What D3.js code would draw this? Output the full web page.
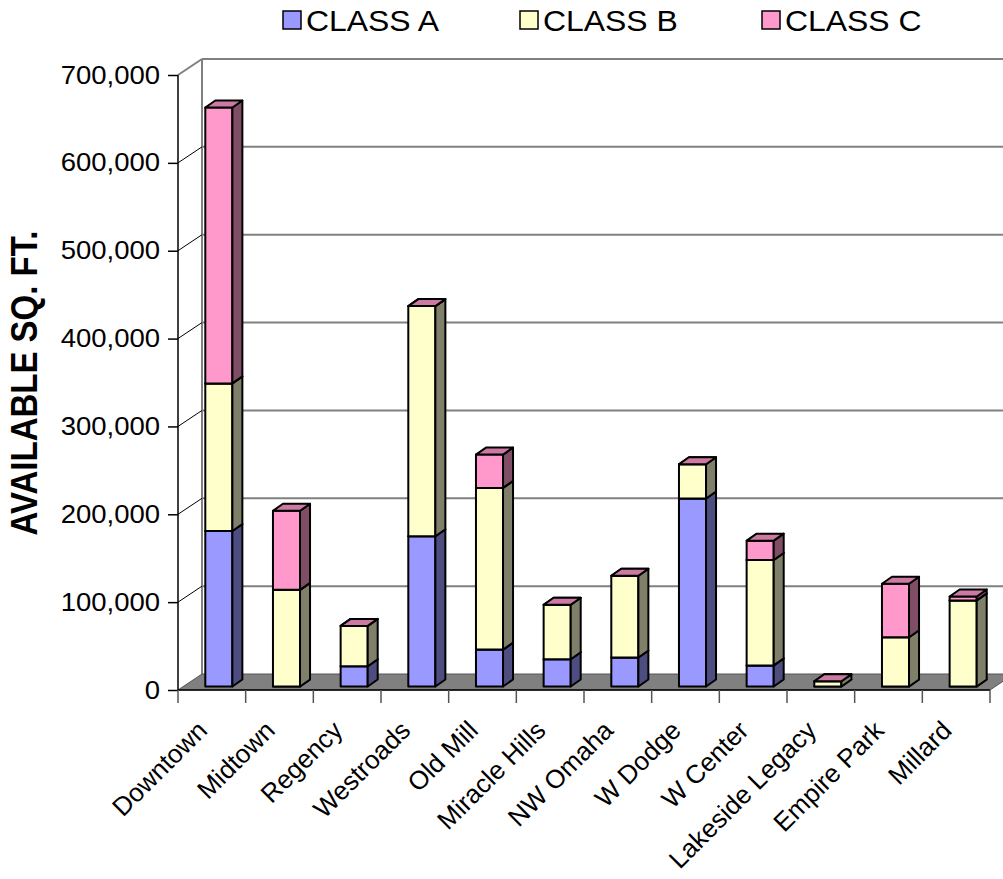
<!DOCTYPE html>
<html>
<head>
<meta charset="utf-8">
<script src="https://cdn.jsdelivr.net/npm/d3@7"></script>
<style>
  body { margin: 0; background: #fff; }
  svg { display: block; font-family: "Liberation Sans", Arial, sans-serif; }
</style>
</head>
<body>
<svg id="chart" width="1003" height="879"></svg>
<script>
const categories = ['Downtown', 'Midtown', 'Regency', 'Westroads', 'Old Mill', 'Miracle Hills',
  'NW Omaha', 'W Dodge', 'W Center', 'Lakeside Legacy', 'Empire Park', 'Millard'];
const classA = [177000, 0, 23000, 171000, 42000, 31000, 33000, 214000, 24000, 0, 0, 0];
const classB = [168000, 110000, 46000, 262000, 184000, 62000, 93000, 39000, 120000, 6000, 56000, 98000];
const classC = [314000, 90000, 0, 0, 38000, 0, 0, 0, 22000, 0, 61000, 4500];
const seriesNames = ['CLASS A', 'CLASS B', 'CLASS C'];
const yTicks = [0, 100000, 200000, 300000, 400000, 500000, 600000, 700000];

const colors = [
  { front: '#9999FF', side: '#4D4D80', top: '#7A7ACC' },
  { front: '#FFFFCC', side: '#80806A', top: '#CCCCA3' },
  { front: '#FF99CC', side: '#804D66', top: '#CC7AA3' }
];

const svg = d3.select('#chart');
const plotLeft = 178, plotRight = 990, plotBottom = 690, plotTop = 75;
const wall = { dx: 24, dy: -16 };      // depth of the chart box
const barOff = { dx: 7, dy: -3.5 };    // bar front inset
const barDepth = { dx: 10, dy: -7 };
const stretch = 1.1;                   // text is a bit wide in the original

const x = d3.scaleBand().domain(categories).range([plotLeft, plotRight]).paddingInner(0).paddingOuter(0);
const y = d3.scaleLinear().domain([0, 700000]).range([plotBottom, plotTop]);
const gray = '#808080';

// back wall grid
const back = svg.append('g');
back.append('line')
  .attr('x1', plotLeft + wall.dx).attr('x2', plotLeft + wall.dx)
  .attr('y1', y(700000) + wall.dy).attr('y2', y(0) + wall.dy)
  .attr('stroke', gray).attr('stroke-width', 2);
back.selectAll('line.grid').data(yTicks.slice(1)).enter().append('line')
  .attr('class', 'grid')
  .attr('x1', plotLeft + wall.dx).attr('x2', 1010)
  .attr('y1', d => y(d) + wall.dy).attr('y2', d => y(d) + wall.dy)
  .attr('stroke', gray).attr('stroke-width', 2);
// side wall lines
back.selectAll('line.side').data(yTicks.slice(1)).enter().append('line')
  .attr('class', 'side')
  .attr('x1', plotLeft).attr('x2', plotLeft + wall.dx)
  .attr('y1', d => y(d)).attr('y2', d => y(d) + wall.dy)
  .attr('stroke', d => d === 700000 ? gray : '#000')
  .attr('stroke-width', d => d === 700000 ? 2 : 1);

// floor
svg.append('polygon')
  .attr('points', [[plotLeft, y(0)], [plotRight, y(0)], [plotRight + wall.dx, y(0) + wall.dy], [plotLeft + wall.dx, y(0) + wall.dy]].join(' '))
  .attr('fill', gray).attr('stroke', '#555').attr('stroke-width', 1);

// bars
const bw = x.bandwidth() * 0.4;
const stacks = categories.map((c, i) => {
  const vals = [classA[i], classB[i], classC[i]];
  let acc = 0;
  return vals.map((v, s) => { const seg = { c, s, y0: acc, y1: acc + v }; acc += v; return seg; });
});
const bars = svg.append('g');
stacks.forEach(stack => {
  const g = bars.append('g');
  stack.forEach(seg => {
    const x0 = x(seg.c) + (x.bandwidth() - bw) / 2 + barOff.dx;
    const x1 = x0 + bw;
    const yb = y(seg.y0) + barOff.dy;
    const yt = y(seg.y1) + barOff.dy;
    const col = colors[seg.s];
    if (seg.y1 > seg.y0) {
      g.append('polygon')
        .attr('points', [[x0, yt], [x1, yt], [x1, yb], [x0, yb]].join(' '))
        .attr('fill', col.front).attr('stroke', '#000').attr('stroke-width', 2).attr('stroke-linejoin', 'round');
      g.append('polygon')
        .attr('points', [[x1, yt], [x1 + barDepth.dx, yt + barDepth.dy], [x1 + barDepth.dx, yb + barDepth.dy], [x1, yb]].join(' '))
        .attr('fill', col.side).attr('stroke', '#000').attr('stroke-width', 2).attr('stroke-linejoin', 'round');
    }
    g.append('polygon')
      .attr('points', [[x0, yt], [x0 + barDepth.dx, yt + barDepth.dy], [x1 + barDepth.dx, yt + barDepth.dy], [x1, yt]].join(' '))
      .attr('fill', col.top).attr('stroke', '#000').attr('stroke-width', 2).attr('stroke-linejoin', 'round');
  });
});

// y axis
const yAxis = svg.append('g').attr('transform', `translate(${plotLeft},0)`)
  .call(d3.axisLeft(y).tickValues(yTicks).tickSize(10).tickPadding(0).tickFormat(d3.format(',')));
yAxis.select('.domain').attr('stroke', '#000').attr('stroke-width', 1.5).attr('d', `M0,${plotTop}V${plotBottom}`);
yAxis.selectAll('.tick line').attr('stroke', '#000').attr('stroke-width', 1.5);
yAxis.selectAll('.tick text')
  .attr('x', null)
  .attr('transform', `translate(-18,0) scale(${stretch},1)`)
  .attr('font-size', 25).attr('fill', '#000')
  .attr('font-family', '"Liberation Sans", Arial, sans-serif');

// x axis
const xAxis = svg.append('g').attr('transform', `translate(0,${plotBottom})`);
xAxis.append('line').attr('x1', plotLeft).attr('x2', plotRight).attr('stroke', '#000').attr('stroke-width', 1.5);
xAxis.selectAll('line.tick').data(categories.concat(['end'])).enter().append('line')
  .attr('class', 'tick')
  .attr('x1', (d, i) => plotLeft + i * x.step()).attr('x2', (d, i) => plotLeft + i * x.step())
  .attr('y1', 0).attr('y2', 13).attr('stroke', '#555').attr('stroke-width', 1.5);
xAxis.selectAll('text').data(categories).enter().append('text')
  .attr('transform', d => `translate(${x(d) + x.bandwidth() / 2 - 3},${42}) rotate(-45)`)
  .attr('text-anchor', 'end').attr('font-size', 26).attr('fill', '#000')
  .text(d => d);

// y title
svg.append('text')
  .attr('transform', `translate(37,383) scale(${stretch},1) rotate(-90)`)
  .attr('text-anchor', 'middle').attr('font-size', 33).attr('font-weight', 'bold')
  .text('AVAILABLE SQ. FT.');

// legend
const legend = svg.append('g');
const lx = [283, 520, 762];
seriesNames.forEach((n, i) => {
  legend.append('rect').attr('x', lx[i]).attr('y', 11).attr('width', 18).attr('height', 18)
    .attr('fill', colors[i].front).attr('stroke', '#000').attr('stroke-width', 1.5);
  legend.append('text')
    .attr('transform', `translate(${lx[i] + 23},31) scale(${stretch},1)`)
    .attr('font-size', 29).text(n);
});
</script>
</body>
</html>
